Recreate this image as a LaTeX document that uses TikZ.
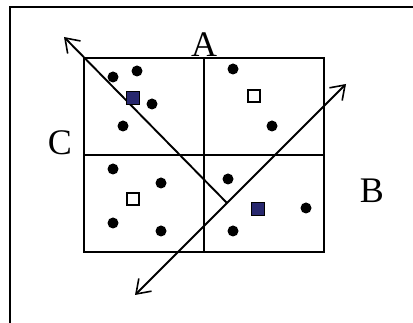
\documentclass[tikz,border=0pt]{standalone}
\usepackage{fontspec}
\setmainfont{Liberation Serif}
\usepackage{xcolor}
\usetikzlibrary{arrows.meta,positioning}

\definecolor{sqblue}{RGB}{40,40,110}

\tikzset{barb/.tip={Straight Barb[length=13pt, width=18pt, line width=1.6pt]}}

\begin{document}
\begin{tikzpicture}[x=1pt, y=-1pt, line width=1.9pt,
    dot/.style={circle, fill, inner sep=0pt, minimum size=11pt},
    opensq/.style={draw, fill=white, inner sep=0pt, minimum size=12pt, line width=1.5pt},
    fullsq/.style={draw, fill=sqblue, inner sep=0pt, minimum size=13pt, line width=1.2pt},
    lbl/.style={font=\fontsize{36}{36}\selectfont, inner sep=0pt, anchor=base}]
        \useasboundingbox (0,0) rectangle (413,323);
        % frame
        \draw (10,330) -- (10,7) -- (420,7);

        % four cells
        \draw (84,58) rectangle (324,252);
        \draw (204,58) -- (204,252);
        \draw (84,155) -- (324,155);

        \node[lbl] (a) at (204,57) {A};
        \node[lbl] (b) at (372,203) {B};
        \node[lbl] (c) at (60,155) {C};

        % points
        \node[dot] (p1) at (113,77) {};
        \node[dot] (p2) at (137,71) {};
        \node[dot] (p3) at (152,104) {};
        \node[dot] (p4) at (123,126) {};
        \node[dot] (p5) at (233,69) {};
        \node[dot] (p6) at (272,126) {};
        \node[dot] (p7) at (113,169) {};
        \node[dot] (p8) at (161,183) {};
        \node[dot] (p9) at (113,223) {};
        \node[dot] (p10) at (161,231) {};
        \node[dot] (p11) at (228,179) {};
        \node[dot] (p12) at (306,208) {};
        \node[dot] (p13) at (233,231) {};

        % squares
        \node[opensq] (s1) at (254,96) {};
        \node[opensq] (s2) at (133,199) {};

        % arrows
        \coordinate (c1) at (64,37);
        \coordinate (c2) at (227,203);
        \coordinate (b1) at (346,84);
        \coordinate (b2) at (135,295);
        \draw[-barb] (c2) -- (c1);
        \draw[barb-barb] (b2) -- (b1);

        \node[fullsq] (s3) at (133,98) {};
        \node[fullsq] (s4) at (258,209) {};
      \end{tikzpicture}
\end{document}
